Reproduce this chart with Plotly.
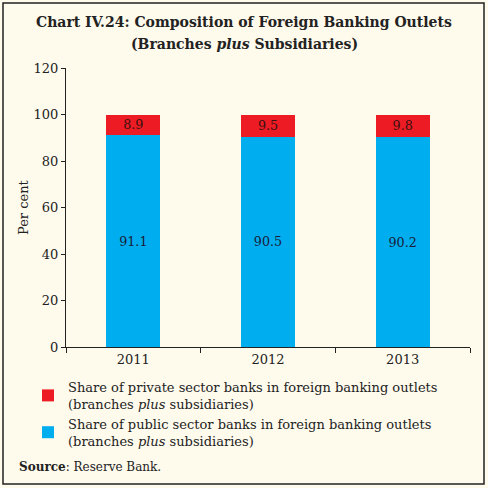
import plotly.graph_objects as go

years = ["2011", "2012", "2013"]
public_share = [91.1, 90.5, 90.2]
private_share = [8.9, 9.5, 9.8]
y_ticks = [0, 20, 40, 60, 80, 100, 120]

FONT = "DejaVu Serif"
BG = "#FEFAEC"

fig = go.Figure()
fig.add_trace(go.Bar(
    x=years, y=public_share, name="Share of public sector banks in foreign banking outlets<br>(branches <i>plus</i> subsidiaries)",
    marker=dict(color="#00AEEF", line=dict(width=0)),
    text=[f"{v:.1f}" for v in public_share], textposition="inside", insidetextanchor="middle",
    textfont=dict(family=FONT, size=13, color="#1a1a3a"), width=0.4,
))
fig.add_trace(go.Bar(
    x=years, y=private_share, name="Share of private sector banks in foreign banking outlets<br>(branches <i>plus</i> subsidiaries)",
    marker=dict(color="#ED1C24", line=dict(width=0)),
    text=[f"{v:.1f}" for v in private_share], textposition="inside", insidetextanchor="middle",
    textfont=dict(family=FONT, size=13, color="#3a1010"), width=0.4,
))

def px_x(px):
    return (px - 66) / 404

def px_y(py):
    return (347 - py) / 279

fig.update_layout(
    barmode="stack",
    width=488, height=488,
    margin=dict(l=66, r=18, t=68, b=141, autoexpand=False),
    paper_bgcolor=BG, plot_bgcolor=BG,
    font=dict(family=FONT, size=13, color="#222"),
    uniformtext=dict(minsize=8, mode="show"),
    showlegend=True,
    legend=dict(xref="container", yref="container", x=28 / 488, y=1 - 372 / 488,
                xanchor="left", yanchor="top", traceorder="reversed",
                bgcolor="rgba(0,0,0,0)", font=dict(family=FONT, size=13, color="#222"),
                tracegroupgap=10, itemwidth=30),
    xaxis=dict(type="category", showline=True, linecolor="#222", linewidth=1, ticks="outside",
               tickson="boundaries", ticklen=5, tickcolor="#222", showgrid=False,
               tickfont=dict(family=FONT, size=13, color="#222")),
    yaxis=dict(range=[0, 120], tickvals=y_ticks, showline=True, linecolor="#222", linewidth=1,
               ticks="outside", ticklen=4, tickcolor="#222", showgrid=False, zeroline=False,
               tickfont=dict(family=FONT, size=13, color="#222")),
    annotations=[
        dict(text="<b>Chart IV.24: Composition of Foreign Banking Outlets</b>", x=px_x(244),
             y=px_y(22), xref="paper", yref="paper", yanchor="middle", showarrow=False,
             font=dict(family=FONT, size=14, color="#222")),
        dict(text="<b>(Branches <i>plus</i> Subsidiaries)</b>", x=px_x(244), y=px_y(44),
             xref="paper", yref="paper", yanchor="middle", showarrow=False,
             font=dict(family=FONT, size=14, color="#222")),
        dict(text="Per cent", textangle=-90, x=px_x(23), y=px_y(207),
             xref="paper", yref="paper", xanchor="center", yanchor="middle", showarrow=False,
             font=dict(family=FONT, size=13, color="#222")),
        dict(text="<b>Source</b>: Reserve Bank.", x=px_x(17), y=px_y(467),
             xref="paper", yref="paper", xanchor="left", yanchor="middle", showarrow=False,
             font=dict(family=FONT, size=12, color="#222")),
    ],
    shapes=[dict(type="rect", xref="paper", yref="paper", x0=px_x(3), x1=px_x(484),
                 y0=px_y(484), y1=px_y(3), line=dict(color="#222", width=1.5))],
)

fig.write_html("out.html", config={"displayModeBar": False},
               post_script="document.body.style.margin='0';document.body.style.padding='0';")
